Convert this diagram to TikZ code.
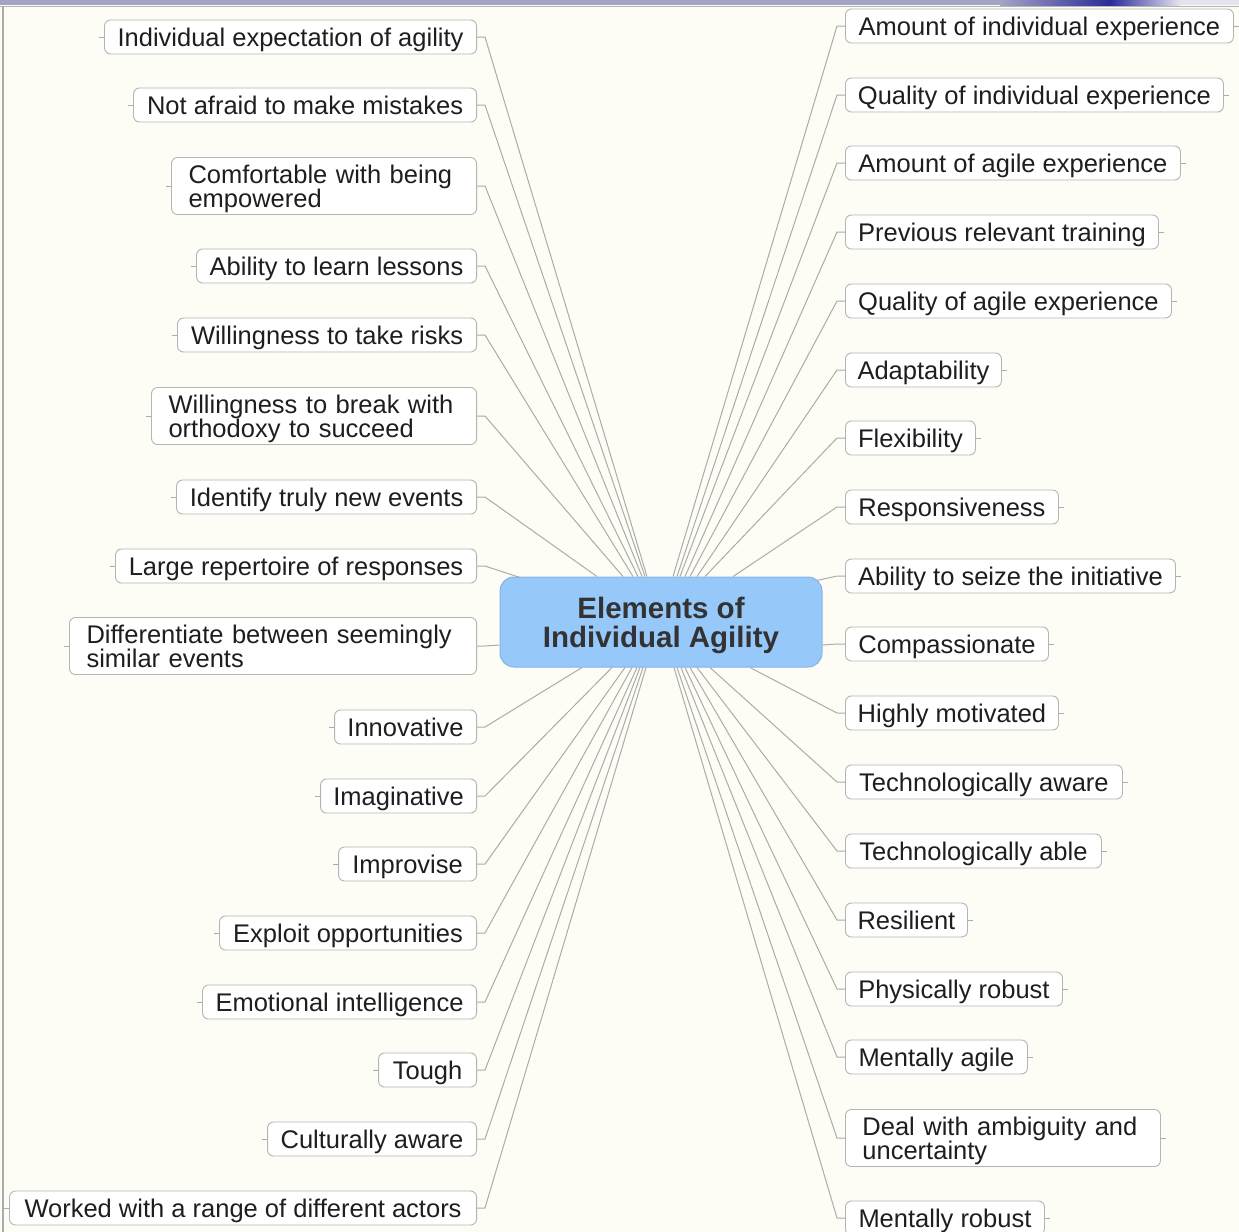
\documentclass[tikz,border=0pt]{standalone}
\usepackage{fontspec}
\setmainfont{Liberation Sans}
\definecolor{bg}{HTML}{FDFDF6}
\definecolor{boxline}{HTML}{B4B4B4}
\definecolor{lineg}{HTML}{ABABAB}
\definecolor{cfill}{HTML}{96C8FA}
\definecolor{cdraw}{HTML}{86B4E4}
\definecolor{ctext}{HTML}{333333}
\definecolor{txt}{HTML}{1E1E1E}
\definecolor{barl}{HTML}{A4A4C4}
\definecolor{barb}{HTML}{2A2A9A}
\definecolor{barr}{HTML}{E4E4EE}
\begin{document}
\begin{tikzpicture}[x=1bp,y=-1bp,
  box/.style={draw=boxline, fill=white, rounded corners=6bp, line width=0.9bp,
    minimum height=34bp, inner xsep=12bp, inner ysep=3bp, text depth=0bp,
    font=\fontsize{25.5bp}{24bp}\selectfont, text=txt},
  lbox/.style={box, anchor=east},
  rbox/.style={box, anchor=west},
  lbox2/.style={lbox, align=left, inner xsep=17bp, minimum height=57bp, text height=18.3bp, text depth=24bp},
  rbox2/.style={rbox, align=left, inner xsep=17bp, minimum height=57bp, text height=18.3bp, text depth=24bp},
  conn/.style={draw=lineg, line width=1bp},
  center/.style={draw=cdraw, fill=cfill, rounded corners=14bp, line width=1bp,
    minimum width=322bp, minimum height=90bp, align=center, text depth=0bp,
    font=\fontsize{29.5bp}{29bp}\selectfont\bfseries, text=ctext}
]
\useasboundingbox (0,0) rectangle (1239,1232);
\fill[bg] (0,0) rectangle (1239,1232);
% top bar and left frame
\fill[barl] (0,0) rectangle (1000,5);
\shade[left color=barl, right color=barb] (1000,0) rectangle (1110,5);
\shade[left color=barb, right color=barr] (1110,0) rectangle (1180,5);
\fill[barr] (1180,0) rectangle (1239,5);
\draw[boxline, line width=0.8bp] (0,6) -- (1239,6);
\draw[lineg, line width=1.5bp] (3,6) -- (3,1232);

% centre
\node[center] (c) at (661,622) {Elements of\\Individual Agility};

% left boxes
\node[lbox, minimum width=372bp] (L1) at (477,37) {Individual expectation of agility};
\node[lbox, minimum width=343bp] (L2) at (477,105) {Not afraid to make mistakes};
\node[lbox2, text width=271bp] (L3) at (477,186) {Comfortable with being\\empowered};
\node[lbox, minimum width=280bp] (L4) at (477,266) {Ability to learn lessons};
\node[lbox, minimum width=299bp] (L5) at (477,335) {Willingness to take risks};
\node[lbox2, text width=291bp] (L6) at (477,416) {Willingness to break with\\orthodoxy to succeed};
\node[lbox, minimum width=300bp] (L7) at (477,497) {Identify truly new events};
\node[lbox, minimum width=361bp] (L8) at (477,566) {Large repertoire of responses};
\node[lbox2, text width=373bp] (L9) at (477,646) {Differentiate between seemingly\\similar events};
\node[lbox, minimum width=142bp] (L10) at (477,727) {Innovative};
\node[lbox, minimum width=156bp] (L11) at (477,796) {Imaginative};
\node[lbox, minimum width=138bp] (L12) at (477,864) {Improvise};
\node[lbox, minimum width=257bp] (L13) at (477,933) {Exploit opportunities};
\node[lbox, minimum width=274bp] (L14) at (477,1002) {Emotional intelligence};
\node[lbox, minimum width=98bp] (L15) at (477,1070) {Tough};
\node[lbox, minimum width=209bp] (L16) at (477,1139) {Culturally aware};
\node[lbox, minimum width=467bp] (L17) at (477,1208) {Worked with a range of different actors};

% right boxes
\node[rbox, minimum width=388bp] (R1) at (845,26) {Amount of individual experience};
\node[rbox, minimum width=378bp] (R2) at (845,95) {Quality of individual experience};
\node[rbox, minimum width=335bp] (R3) at (845,163) {Amount of agile experience};
\node[rbox, minimum width=313bp] (R4) at (845,232) {Previous relevant training};
\node[rbox, minimum width=326bp] (R5) at (845,301) {Quality of agile experience};
\node[rbox, minimum width=156bp] (R6) at (845,370) {Adaptability};
\node[rbox, minimum width=130bp] (R7) at (845,438) {Flexibility};
\node[rbox, minimum width=213bp] (R8) at (845,507) {Responsiveness};
\node[rbox, minimum width=330bp] (R9) at (845,576) {Ability to seize the initiative};
\node[rbox, minimum width=203bp] (R10) at (845,644) {Compassionate};
\node[rbox, minimum width=213bp] (R11) at (845,713) {Highly motivated};
\node[rbox, minimum width=277bp] (R12) at (845,782) {Technologically aware};
\node[rbox, minimum width=256bp] (R13) at (845,851) {Technologically able};
\node[rbox, minimum width=122bp] (R14) at (845,920) {Resilient};
\node[rbox, minimum width=217bp] (R15) at (845,989) {Physically robust};
\node[rbox, minimum width=182bp] (R16) at (845,1057) {Mentally agile};
\node[rbox2, text width=281bp] (R17) at (845,1138) {Deal with ambiguity and\\uncertainty};
\node[rbox, minimum width=199bp] (R18) at (845,1218) {Mentally robust};

% left connectors
\draw[conn] (L1.east) -- ++(8,0) -- ([xshift=-14bp]c.north);
\draw[conn] (L2.east) -- ++(8,0) -- ([xshift=-16bp]c.north);
\draw[conn] (L3.east) -- ++(8,0) -- ([xshift=-19bp]c.north);
\draw[conn] (L4.east) -- ++(8,0) -- ([xshift=-23bp]c.north);
\draw[conn] (L5.east) -- ++(8,0) -- ([xshift=-28bp]c.north);
\draw[conn] (L6.east) -- ++(8,0) -- ([xshift=-38bp]c.north);
\draw[conn] (L7.east) -- ++(8,0) -- ([xshift=-64bp]c.north);
\draw[conn] (L8.east) -- ++(8,0) -- ([xshift=-141bp,yshift=-1bp]c.north);
\draw[conn] (L9.east) -- ++(8,0) -- ([yshift=-23bp]c.west);
\draw[conn] (L10.east) -- ++(8,0) -- ([xshift=-79bp]c.south);
\draw[conn] (L11.east) -- ++(8,0) -- ([xshift=-49bp]c.south);
\draw[conn] (L12.east) -- ++(8,0) -- ([xshift=-36bp]c.south);
\draw[conn] (L13.east) -- ++(8,0) -- ([xshift=-29bp]c.south);
\draw[conn] (L14.east) -- ++(8,0) -- ([xshift=-24bp]c.south);
\draw[conn] (L15.east) -- ++(8,0) -- ([xshift=-21bp]c.south);
\draw[conn] (L16.east) -- ++(8,0) -- ([xshift=-18bp]c.south);
\draw[conn] (L17.east) -- ++(8,0) -- ([xshift=-15bp]c.south);

% right connectors
\draw[conn] (R1.west) -- ++(-8,0) -- ([xshift=12bp]c.north);
\draw[conn] (R2.west) -- ++(-8,0) -- ([xshift=16bp]c.north);
\draw[conn] (R3.west) -- ++(-8,0) -- ([xshift=19bp]c.north);
\draw[conn] (R4.west) -- ++(-8,0) -- ([xshift=24bp]c.north);
\draw[conn] (R5.west) -- ++(-8,0) -- ([xshift=29bp]c.north);
\draw[conn] (R6.west) -- ++(-8,0) -- ([xshift=36bp]c.north);
\draw[conn] (R7.west) -- ++(-8,0) -- ([xshift=44bp]c.north);
\draw[conn] (R8.west) -- ++(-8,0) -- ([xshift=72bp]c.north);
\draw[conn] (R9.west) -- ++(-8,0) -- ([xshift=-6bp,yshift=-4bp]c.north east);
\draw[conn] (R10.west) -- ++(-8,0) -- ([yshift=-23bp]c.east);
\draw[conn] (R11.west) -- ++(-8,0) -- ([xshift=89bp]c.south);
\draw[conn] (R12.west) -- ++(-8,0) -- ([xshift=49bp]c.south);
\draw[conn] (R13.west) -- ++(-8,0) -- ([xshift=36bp]c.south);
\draw[conn] (R14.west) -- ++(-8,0) -- ([xshift=29bp]c.south);
\draw[conn] (R15.west) -- ++(-8,0) -- ([xshift=24bp]c.south);
\draw[conn] (R16.west) -- ++(-8,0) -- ([xshift=20bp]c.south);
\draw[conn] (R17.west) -- ++(-8,0) -- ([xshift=16bp]c.south);
\draw[conn] (R18.west) -- ++(-8,0) -- ([xshift=13bp]c.south);

% outer collapse ticks
\foreach \n in {L1,L2,L3,L4,L5,L6,L7,L8,L9,L10,L11,L12,L13,L14,L15,L16,L17}
  \draw[conn, line width=0.6bp] (\n.west) -- ++(-5,0);
\foreach \n in {R1,R2,R3,R4,R5,R6,R7,R8,R9,R10,R11,R12,R13,R14,R15,R16,R17,R18}
  \draw[conn, line width=0.6bp] (\n.east) -- ++(5,0);
\end{tikzpicture}
\end{document}
